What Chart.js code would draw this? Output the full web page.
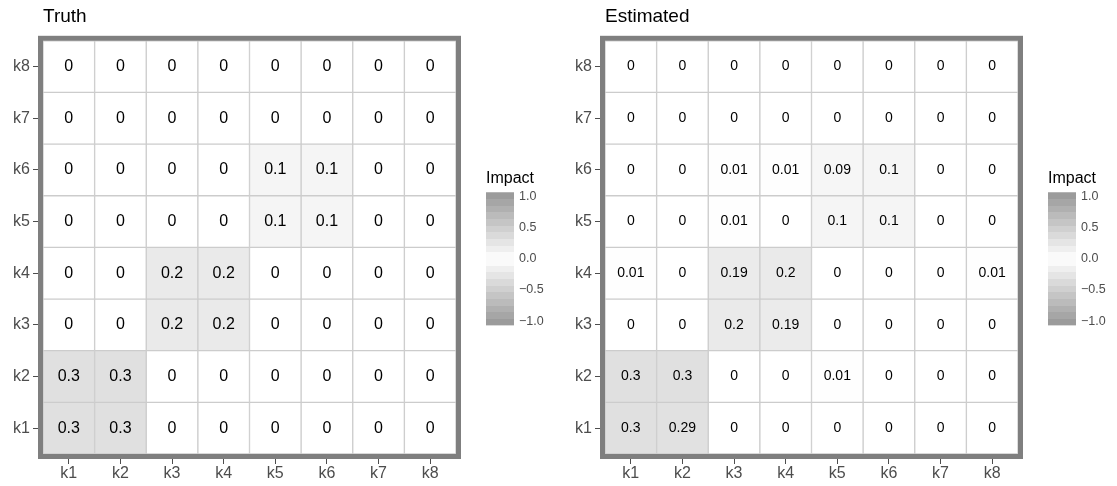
<!DOCTYPE html>
<html lang="en">
<head>
<meta charset="UTF-8">
<title>Truth vs Estimated impact</title>
<script src="https://cdn.jsdelivr.net/npm/chart.js"></script>
<style>
  body { margin: 0; background: #fff; }
  #wrap { position: relative; width: 1117px; height: 486px; }
  #wrap canvas { position: absolute; }
</style>
</head>
<body>
<div id="wrap">
  <canvas id="truth" width="480" height="486" style="left:0;top:0"></canvas>
  <canvas id="truthKey" width="70" height="169" style="left:486px;top:169px"></canvas>
  <canvas id="est" width="480" height="486" style="left:562px;top:0"></canvas>
  <canvas id="estKey" width="70" height="169" style="left:1048px;top:169px"></canvas>
</div>
<script>
const xCats = ['k1', 'k2', 'k3', 'k4', 'k5', 'k6', 'k7', 'k8'];
const yCats = ['k1', 'k2', 'k3', 'k4', 'k5', 'k6', 'k7', 'k8'];

// rows go bottom (k1) to top (k8), columns k1..k8
const truth = [
  [0.3, 0.3, 0, 0, 0, 0, 0, 0],
  [0.3, 0.3, 0, 0, 0, 0, 0, 0],
  [0, 0, 0.2, 0.2, 0, 0, 0, 0],
  [0, 0, 0.2, 0.2, 0, 0, 0, 0],
  [0, 0, 0, 0, 0.1, 0.1, 0, 0],
  [0, 0, 0, 0, 0.1, 0.1, 0, 0],
  [0, 0, 0, 0, 0, 0, 0, 0],
  [0, 0, 0, 0, 0, 0, 0, 0]
];
const estimated = [
  [0.3, 0.29, 0, 0, 0, 0, 0, 0],
  [0.3, 0.3, 0, 0, 0.01, 0, 0, 0],
  [0, 0, 0.2, 0.19, 0, 0, 0, 0],
  [0.01, 0, 0.19, 0.2, 0, 0, 0, 0.01],
  [0, 0, 0.01, 0, 0.1, 0.1, 0, 0],
  [0, 0, 0.01, 0.01, 0.09, 0.1, 0, 0],
  [0, 0, 0, 0, 0, 0, 0, 0],
  [0, 0, 0, 0, 0, 0, 0, 0]
];
const legendTicks = [-1, -0.5, 0, 0.5, 1];

const FONT = '"Liberation Sans", Arial, sans-serif';

// white at 0, grey towards +/-1
function shade(v) {
  const g = Math.round(255 - Math.abs(v) * 105);
  return `rgb(${g},${g},${g})`;
}

// numbers in the tiles + the thick grey panel border
const tileText = {
  id: 'tileText',
  afterDatasetsDraw(chart, args, opts) {
    const ctx = chart.ctx;
    ctx.save();
    ctx.font = opts.size + 'px ' + FONT;
    ctx.fillStyle = '#000';
    ctx.textAlign = 'center';
    ctx.textBaseline = 'middle';
    chart.data.datasets.forEach((ds, i) => {
      chart.getDatasetMeta(i).data.forEach((bar, j) => {
        ctx.fillText(String(ds.values[j]), bar.x, (bar.y + bar.base) / 2);
      });
    });
    const a = chart.chartArea;
    ctx.strokeStyle = '#7f7f7f';
    ctx.lineWidth = 5;
    ctx.strokeRect(a.left - 2.5, a.top - 2.5, a.right - a.left + 5, a.bottom - a.top + 5);
    ctx.restore();
  }
};

function drawHeatmap(id, title, rows, textSize) {
  const datasets = rows.map((row, i) => ({
    label: yCats[i],
    data: row.map(() => 1),      // every tile is one row tall
    values: row,
    backgroundColor: row.map(shade),
    borderColor: '#cccccc',
    borderWidth: 1,
    borderSkipped: false,
    barPercentage: 1,
    categoryPercentage: 1
  }));

  new Chart(document.getElementById(id), {
    type: 'bar',
    data: { labels: xCats, datasets: datasets },
    plugins: [tileText],
    options: {
      responsive: false,
      animation: false,
      devicePixelRatio: 1,
      layout: { padding: { left: 0, right: 24, top: 0, bottom: 0 } },
      scales: {
        x: {
          stacked: true,
          afterFit: axis => { axis.height = 32; },
          ticks: { color: '#4d4d4d', font: { family: FONT, size: 16 }, padding: 0, maxRotation: 0 },
          grid: { offset: false, drawOnChartArea: false, tickLength: 10, tickColor: '#4d4d4d' },
          border: { display: false }
        },
        y: {
          stacked: true,
          min: 0,
          max: yCats.length,
          afterBuildTicks: axis => { axis.ticks = yCats.map((c, i) => ({ value: i + 0.5 })); },
          afterFit: axis => { axis.width = 43; },
          ticks: {
            callback: (v, i) => yCats[i],
            autoSkip: false,
            color: '#4d4d4d',
            font: { family: FONT, size: 16 },
            padding: 3
          },
          grid: { drawOnChartArea: false, tickLength: 10, tickColor: '#4d4d4d' },
          border: { display: false }
        }
      },
      plugins: {
        legend: { display: false },
        tooltip: { enabled: false },
        title: {
          display: true,
          fullSize: false,
          text: title,
          align: 'start',
          color: '#000',
          font: { family: FONT, size: 19, weight: 'normal' },
          padding: { top: 5, bottom: 13 }
        },
        tileText: { size: textSize }
      }
    }
  });
}

function drawKey(id) {
  const lo = -1.07, hi = 1.07;
  new Chart(document.getElementById(id), {
    type: 'bar',
    data: {
      labels: [''],
      datasets: [{
        data: [[lo, hi]],
        barPercentage: 1,
        categoryPercentage: 1,
        borderWidth: 0,
        backgroundColor(c) {
          const area = c.chart.chartArea;
          if (!area) return '#fff';
          const g = c.chart.ctx.createLinearGradient(0, area.top, 0, area.bottom);
          const n = 20;
          for (let i = 0; i < n; i++) {
            const col = shade(1 - (i + 0.5) * 2 / n);
            g.addColorStop(i / n, col);
            g.addColorStop((i + 1) / n, col);
          }
          return g;
        }
      }]
    },
    options: {
      responsive: false,
      animation: false,
      devicePixelRatio: 1,
      layout: { padding: { left: 0, right: 0, top: 0, bottom: 10 } },
      scales: {
        x: { display: false },
        y: {
          position: 'right',
          min: lo,
          max: hi,
          z: 1,
          afterBuildTicks: axis => { axis.ticks = legendTicks.map(v => ({ value: v })); },
          afterFit: axis => { axis.width = 42; },
          ticks: {
            callback: v => v.toFixed(1).replace('-', '\u2212'),
            color: '#4d4d4d',
            font: { family: FONT, size: 12.5 },
            padding: 5
          },
          grid: { color: '#ffffff', lineWidth: 1.5, borderDash: [5, 18], drawTicks: false },
          border: { display: false }
        }
      },
      plugins: {
        legend: { display: false },
        tooltip: { enabled: false },
        title: {
          display: true,
          text: 'Impact',
          align: 'start',
          color: '#000',
          font: { family: FONT, size: 16, weight: 'normal' },
          padding: { top: 0, bottom: 4 }
        }
      }
    }
  });
}

drawHeatmap('truth', 'Truth', truth, 16);
drawHeatmap('est', 'Estimated', estimated, 14);
drawKey('truthKey');
drawKey('estKey');
</script>
</body>
</html>
